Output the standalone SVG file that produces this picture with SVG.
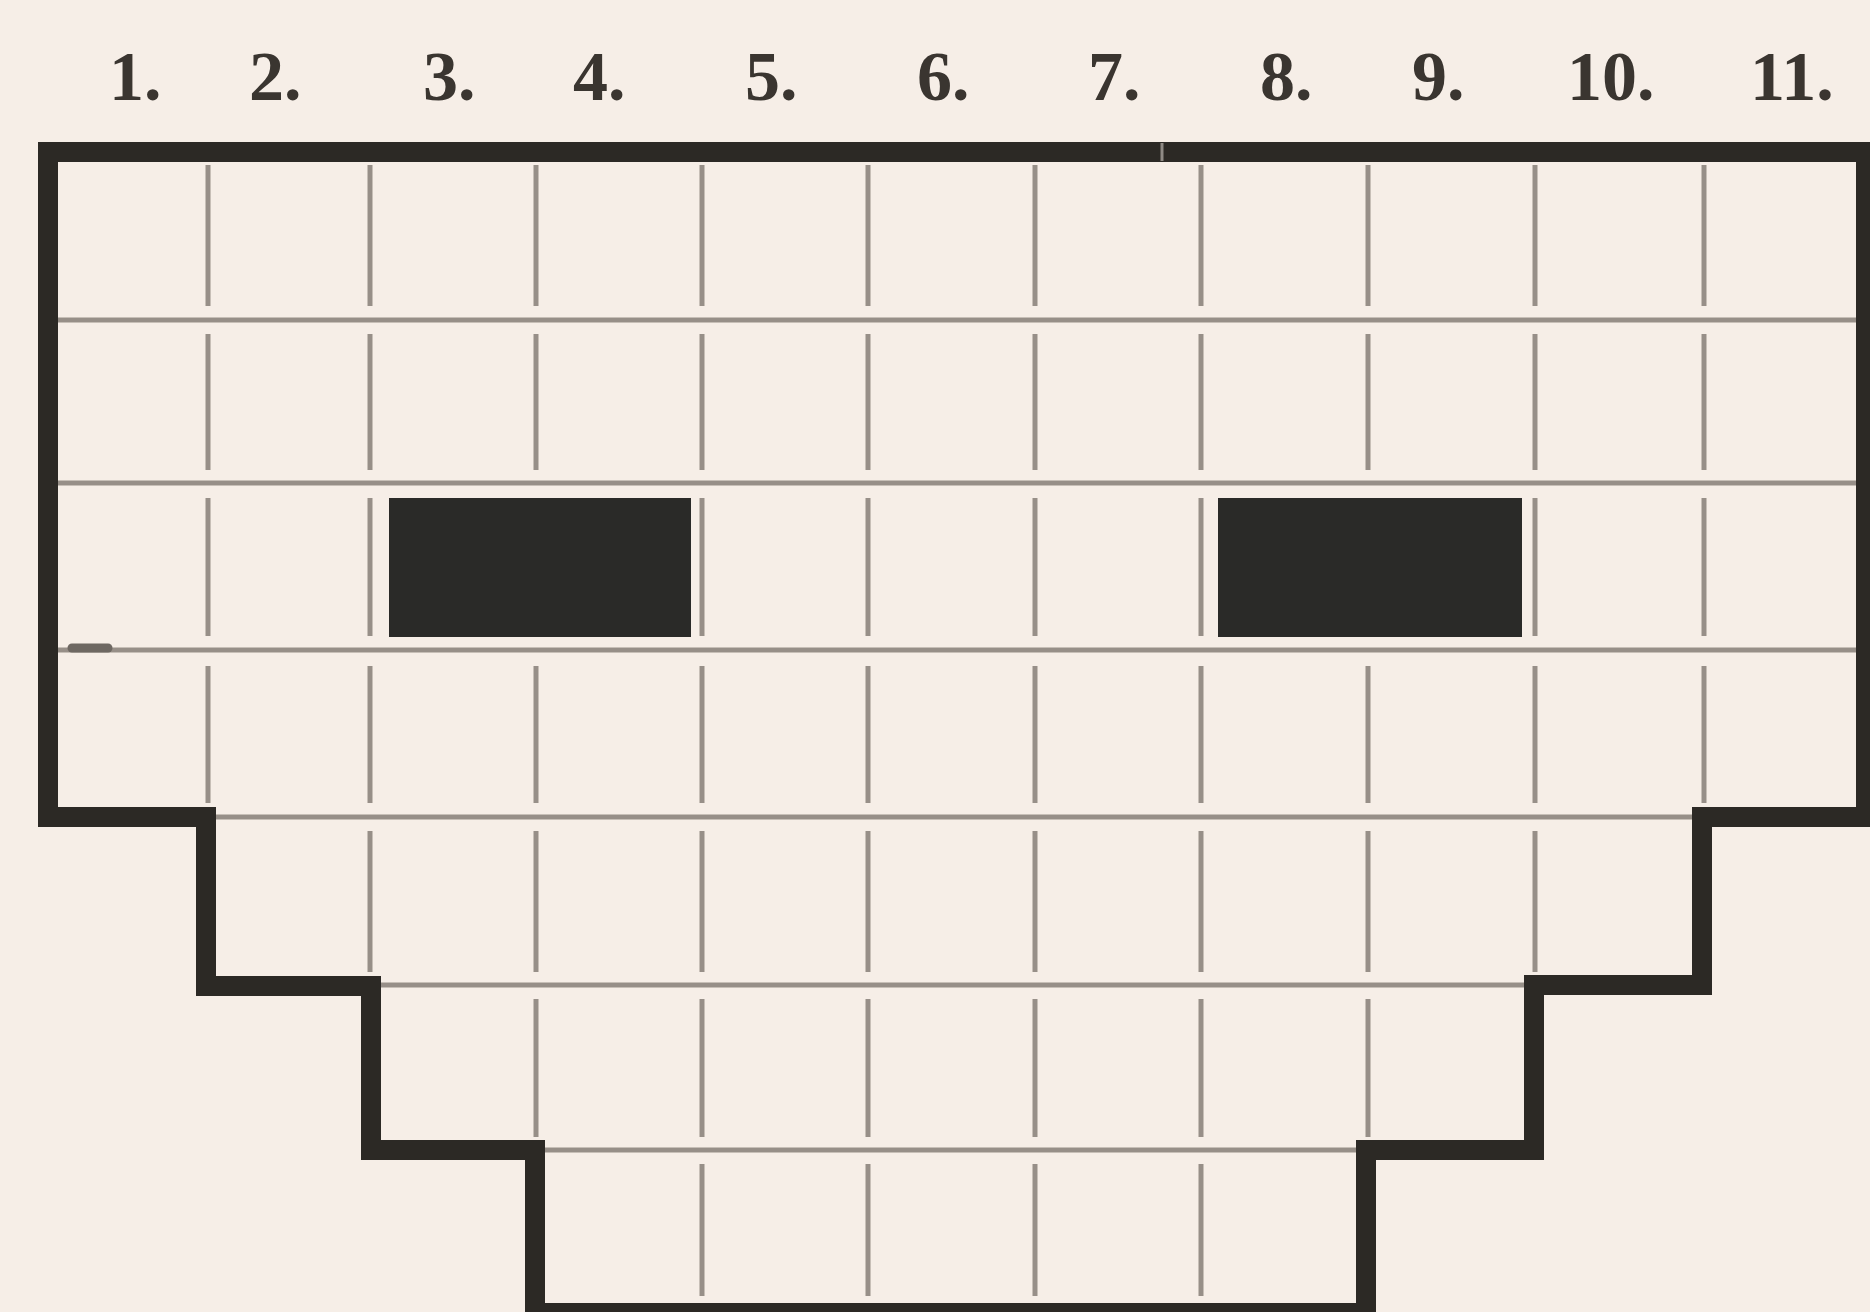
<svg xmlns="http://www.w3.org/2000/svg" width="1870" height="1312" viewBox="0 0 1870 1312">
  <style>
    .bg { fill: #f6eee7; }
    .grid { stroke: #978f88; stroke-width: 5; fill: none; }
    .outline { stroke: #2c2925; stroke-width: 20; fill: none; stroke-linejoin: miter; stroke-linecap: square; }
    .block { fill: #2a2a28; }
    .label { font-family: "Liberation Serif", "DejaVu Serif", serif; font-weight: bold; font-size: 70px; fill: #3a3530; }
  </style>
  <rect class="bg" x="0" y="0" width="1870" height="1312"/>

  <g id="labels">
    <text class="label" x="109" y="100">1.</text>
    <text class="label" x="249" y="100">2.</text>
    <text class="label" x="423" y="100">3.</text>
    <text class="label" x="573" y="100">4.</text>
    <text class="label" x="745" y="100">5.</text>
    <text class="label" x="917" y="100">6.</text>
    <text class="label" x="1088" y="100">7.</text>
    <text class="label" x="1260" y="100">8.</text>
    <text class="label" x="1412" y="100">9.</text>
    <text class="label" x="1567" y="100">10.</text>
    <text class="label" x="1750" y="100">11.</text>
  </g>

  <g id="grid-horizontal" class="grid">
    <path d="M58 320 H1856"/>
    <path d="M58 483 H1856"/>
    <path d="M58 650 H1856"/>
    <path d="M206 817 H1702"/>
    <path d="M371 985 H1534"/>
    <path d="M535 1150 H1366"/>
  </g>
  <path d="M72 648 H108" stroke="#6e6862" stroke-width="9" stroke-linecap="round"/>

  <g id="grid-vertical" class="grid">
    <!-- rows 1-4: all ten interior lines -->
    <path d="M208 165 V306 M370 165 V306 M536 165 V306 M702 165 V306 M868 165 V306 M1035 165 V306 M1201 165 V306 M1368 165 V306 M1535 165 V306 M1704 165 V306"/>
    <path d="M208 334 V470 M370 334 V470 M536 334 V470 M702 334 V470 M868 334 V470 M1035 334 V470 M1201 334 V470 M1368 334 V470 M1535 334 V470 M1704 334 V470"/>
    <path d="M208 498 V636 M370 498 V636 M536 498 V636 M702 498 V636 M868 498 V636 M1035 498 V636 M1201 498 V636 M1368 498 V636 M1535 498 V636 M1704 498 V636"/>
    <path d="M208 666 V803 M370 666 V803 M536 666 V803 M702 666 V803 M868 666 V803 M1035 666 V803 M1201 666 V803 M1368 666 V803 M1535 666 V803 M1704 666 V803"/>
    <!-- row 5 -->
    <path d="M370 831 V972 M536 831 V972 M702 831 V972 M868 831 V972 M1035 831 V972 M1201 831 V972 M1368 831 V972 M1535 831 V972"/>
    <!-- row 6 -->
    <path d="M536 999 V1137 M702 999 V1137 M868 999 V1137 M1035 999 V1137 M1201 999 V1137 M1368 999 V1137"/>
    <!-- row 7 -->
    <path d="M702 1164 V1296 M868 1164 V1296 M1035 1164 V1296 M1201 1164 V1296"/>
  </g>

  <g id="blocks">
    <rect id="block-left" class="block" x="389" y="498" width="302" height="139"/>
    <rect id="block-right" class="block" x="1218" y="498" width="304" height="139"/>
  </g>

  <g id="outline">
    <path class="outline" d="M1880 152 H48 V817 H206 V986 H371 V1150 H535 V1313 H1366 V1150 H1534 V985 H1702 V817 H1866 V152"/>
    <path d="M1162 143 V161" stroke="#8f8a85" stroke-width="3"/>
  </g>
</svg>
